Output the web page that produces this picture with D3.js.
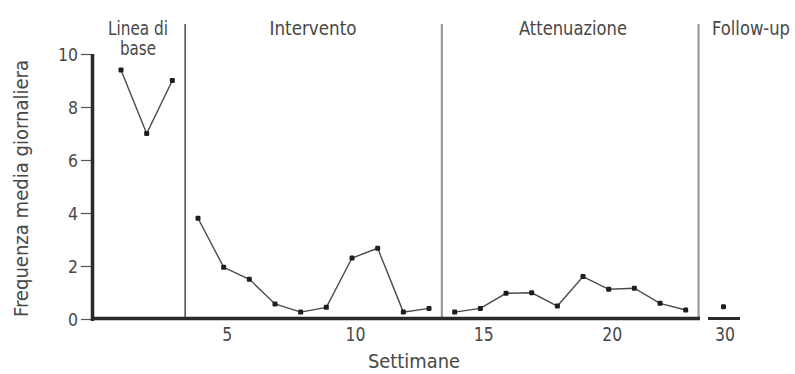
<!DOCTYPE html>
<html><head><meta charset="utf-8">
<script src="https://cdn.jsdelivr.net/npm/d3@7"></script>
<style>
html,body{margin:0;padding:0;background:#fff;}
svg text{font-family:"Liberation Sans Narrow","DejaVu Sans Condensed",sans-serif;fill:#484848;}
</style></head>
<body><svg id="c" width="795" height="374"></svg>
<script>
// Data
const phaseNames = [["Linea di","base"],["Intervento"],["Attenuazione"],["Follow-up"]];
const baselineWeeks = [1,2,3];
const baselineValues = [9.4,7.0,9.0];
const interventionWeeks = [4,5,6,7,8,9,10,11,12,13];
const interventionValues = [3.8,1.95,1.5,0.57,0.26,0.44,2.3,2.67,0.26,0.4];
const attenuationWeeks = [14,15,16,17,18,19,20,21,22,23];
const attenuationValues = [0.26,0.4,0.97,0.99,0.49,1.6,1.12,1.16,0.59,0.34];
const followWeeks = [30];
const followValues = [0.46];
const xTicks = [5,10,15,20];
const followTicks = [30];
const yTicks = [0,2,4,6,8,10];
const phaseBreaks = [3.5,13.5,23.5];

const svg = d3.select("#c");
const x = d3.scaleLinear().domain([1,23]).range([121,685.7]);
const xf = d3.scaleLinear().domain([29,31]).range([697.8,749.2]);
const y = d3.scaleLinear().domain([0,10]).range([319,54]);

function fit(sel, w){ sel.attr("textLength",w).attr("lengthAdjust","spacingAndGlyphs"); }

// phase divider lines
const divColors = ["#555","#9a9a9a","#9a9a9a"];
const divWidths = [1.6,2.2,2.2];
svg.selectAll("line.div").data(phaseBreaks).join("line")
  .attr("x1",d=>x(d)).attr("x2",d=>x(d))
  .attr("y1",24).attr("y2",y(0))
  .attr("stroke",(d,i)=>divColors[i]).attr("stroke-width",(d,i)=>divWidths[i]);

// y axis
const yAxis = d3.axisLeft(y).tickValues(yTicks).tickSize(10).tickPadding(3).tickFormat(d3.format("d"));
const gy = svg.append("g").attr("transform","translate(91,0)").call(yAxis);
gy.select(".domain").remove();
gy.selectAll(".tick line").attr("stroke","#555").attr("stroke-width",1.2);
gy.selectAll(".tick text").style("font-size","18px").attr("fill","#484848").attr("dy","0.36em")
  .each(function(d){ fit(d3.select(this), String(d).length*10); });
svg.append("line").attr("x1",92.5).attr("x2",92.5).attr("y1",y(10)).attr("y2",y(0)+2)
  .attr("stroke","#2a2a2a").attr("stroke-width",3.5);

// x axis main
svg.append("line").attr("x1",91).attr("x2",700).attr("y1",318.5).attr("y2",318.5)
  .attr("stroke","#2a2a2a").attr("stroke-width",3.5);
const xAxis = d3.axisBottom(x).tickValues(xTicks).tickSize(0).tickPadding(8).tickFormat(d3.format("d"));
const gx = svg.append("g").attr("transform","translate(3,319)").call(xAxis);
gx.select(".domain").remove();
gx.selectAll(".tick text").style("font-size","20px").attr("fill","#484848")
  .each(function(d){ fit(d3.select(this), String(d).length*10); });

// follow-up axis segment
svg.append("line").attr("x1",708).attr("x2",740).attr("y1",318.5).attr("y2",318.5)
  .attr("stroke","#2a2a2a").attr("stroke-width",3);
const xfAxis = d3.axisBottom(xf).tickValues(followTicks).tickSize(0).tickPadding(8).tickFormat(d3.format("d"));
const gxf = svg.append("g").attr("transform","translate(1,319)").call(xfAxis);
gxf.select(".domain").remove();
gxf.selectAll(".tick text").style("font-size","20px").attr("fill","#484848")
  .each(function(d){ fit(d3.select(this), String(d).length*10); });

// series
const series = [
  {w:baselineWeeks,v:baselineValues,sx:x},
  {w:interventionWeeks,v:interventionValues,sx:x},
  {w:attenuationWeeks,v:attenuationValues,sx:x},
  {w:followWeeks,v:followValues,sx:xf}
];
series.forEach(s=>{
  const pts = s.w.map((w,i)=>[s.sx(w),y(s.v[i])]);
  if(pts.length>1){
    svg.append("path").attr("d",d3.line()(pts)).attr("fill","none")
      .attr("stroke","#4a4a4a").attr("stroke-width",1.4);
  }
  svg.selectAll(null).data(pts).join("rect")
    .attr("x",d=>d[0]-2.5).attr("y",d=>d[1]-2.5).attr("width",5).attr("height",5)
    .attr("rx",1.2).attr("fill","#1e1e1e");
});

// phase labels: [centerX, width] per line
const labelX = [138,313,573,751];
const labelW = [[60,36],[87],[108],[78]];
phaseNames.forEach((lines,i)=>{
  lines.forEach((l,j)=>{
    const t = svg.append("text").attr("x",labelX[i]).attr("y",35+j*20)
      .attr("text-anchor","middle").style("font-size","19px").text(l);
    fit(t, labelW[i][j]);
  });
});

// axis titles
const yt = svg.append("text").attr("transform","translate(28,188.5) rotate(-90)")
  .attr("text-anchor","middle").style("font-size","20px")
  .text("Frequenza media giornaliera");
fit(yt,257);
const xt = svg.append("text").attr("x",414).attr("y",368).attr("text-anchor","middle")
  .style("font-size","19px").text("Settimane");
fit(xt,92);
</script></body></html>
